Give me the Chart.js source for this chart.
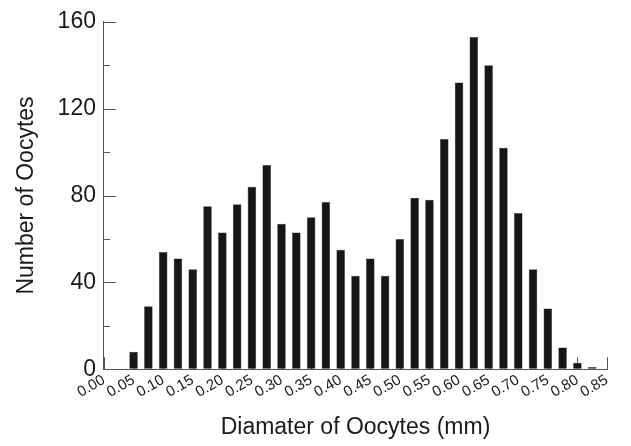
<!DOCTYPE html>
<html>
<head>
<meta charset="utf-8">
<script src="https://cdn.jsdelivr.net/npm/chart.js@4"></script>
<style>
  html, body { margin: 0; padding: 0; background: #fff; }
  #wrap { width: 631px; height: 446px; }
</style>
</head>
<body>
<div id="wrap"><canvas id="oocyteChart"></canvas></div>
<script>
// bin centres (mm) and counts
const diameters = [0.050, 0.075, 0.100, 0.125, 0.150, 0.175, 0.200, 0.225,
    0.250, 0.275, 0.300, 0.325, 0.350, 0.375, 0.400, 0.425,
    0.450, 0.475, 0.500, 0.525, 0.550, 0.575, 0.600, 0.625,
    0.650, 0.675, 0.700, 0.725, 0.750, 0.775, 0.800, 0.825];
const counts = [8, 29, 54, 51, 46, 75, 63, 76,
    84, 94, 67, 63, 70, 77, 55, 43,
    51, 43, 60, 79, 78, 106, 132, 153,
    140, 102, 72, 46, 28, 10, 3, 1];
const yMajorTicks = [0, 40, 80, 120, 160];
const yMinorTicks = [20, 60, 100, 140];
const xTicks = [0.00, 0.05, 0.10, 0.15, 0.20, 0.25, 0.30, 0.35, 0.40,
    0.45, 0.50, 0.55, 0.60, 0.65, 0.70, 0.75, 0.80, 0.85];

/*
* ticks pointing into the plot, drawn before the bars so the bars cover them
*/
const innerTicks = {
    id: 'innerTicks',
    beforeDatasetsDraw(chart) {
        const ctx = chart.ctx;
        const x = chart.scales.x;
        const y = chart.scales.y;
        ctx.save();
        ctx.strokeStyle = '#555';
        ctx.lineWidth = 1;
        ctx.beginPath();
        yMajorTicks.forEach(v => {
            const py = Math.round(y.getPixelForValue(v)) + 0.5;
            ctx.moveTo(x.left, py);
            ctx.lineTo(x.left + 12, py);
        });
        yMinorTicks.forEach(v => {
            const py = Math.round(y.getPixelForValue(v)) + 0.5;
            ctx.moveTo(x.left, py);
            ctx.lineTo(x.left + 6, py);
        });
        xTicks.forEach(v => {
            const px = Math.round(x.getPixelForValue(v)) + 0.5;
            ctx.moveTo(px, y.bottom);
            ctx.lineTo(px, y.bottom - 12);
        });
        ctx.stroke();
        ctx.restore();
    }
};

document.addEventListener('DOMContentLoaded', () => {
    new Chart(
        document.getElementById('oocyteChart'),
        {
            type: 'bar',
            data: {
                datasets: [
                    {
                        label: 'Number of Oocytes',
                        data: diameters.map((d, i) => ({ x: d, y: counts[i] })),
                        backgroundColor: '#161616',
                        borderColor: '#3a3a3a',
                        borderWidth: 0.5,
                        barPercentage: 0.58,
                        categoryPercentage: 1
                    }
                ]
            },
            options: {
                responsive: true,
                maintainAspectRatio: false,
                animation: false,
                layout: {
                    padding: { top: 12, right: 24, left: 13, bottom: 5 }
                },
                plugins: {
                    legend: { display: false },
                    tooltip: { enabled: false }
                },
                scales: {
                    x: {
                        type: 'linear',
                        min: 0,
                        max: 0.85,
                        offset: false,
                        grid: { display: true, drawOnChartArea: false, drawTicks: false, offset: false },
                        border: { display: true, color: '#555', width: 1 },
                        afterBuildTicks: axis => {
                            axis.ticks = xTicks.map(v => ({ value: v }));
                        },
                        ticks: {
                            autoSkip: false,
                            minRotation: 30,
                            maxRotation: 30,
                            padding: 2,
                            color: '#1a1a1a',
                            font: { family: '"Liberation Sans", Arial, sans-serif', size: 15 },
                            callback: v => Number(v).toFixed(2)
                        },
                        title: {
                            display: true,
                            text: 'Diamater of Oocytes (mm)',
                            color: '#1a1a1a',
                            padding: { top: 10, bottom: 0 },
                            font: { family: '"Liberation Sans", Arial, sans-serif', size: 23 }
                        }
                    },
                    y: {
                        min: 0,
                        max: 160,
                        grid: { display: true, drawOnChartArea: false, drawTicks: false },
                        border: { display: true, color: '#555', width: 1 },
                        afterBuildTicks: axis => {
                            axis.ticks = yMajorTicks.map(v => ({ value: v }));
                        },
                        ticks: {
                            padding: 8,
                            color: '#1a1a1a',
                            font: { family: '"Liberation Sans", Arial, sans-serif', size: 23 }
                        },
                        title: {
                            display: true,
                            text: 'Number of Oocytes',
                            color: '#1a1a1a',
                            padding: { top: 0, bottom: 9 },
                            font: { family: '"Liberation Sans", Arial, sans-serif', size: 23 }
                        }
                    }
                }
            },
            plugins: [innerTicks]
        }
    );
});
</script>
</body>
</html>
